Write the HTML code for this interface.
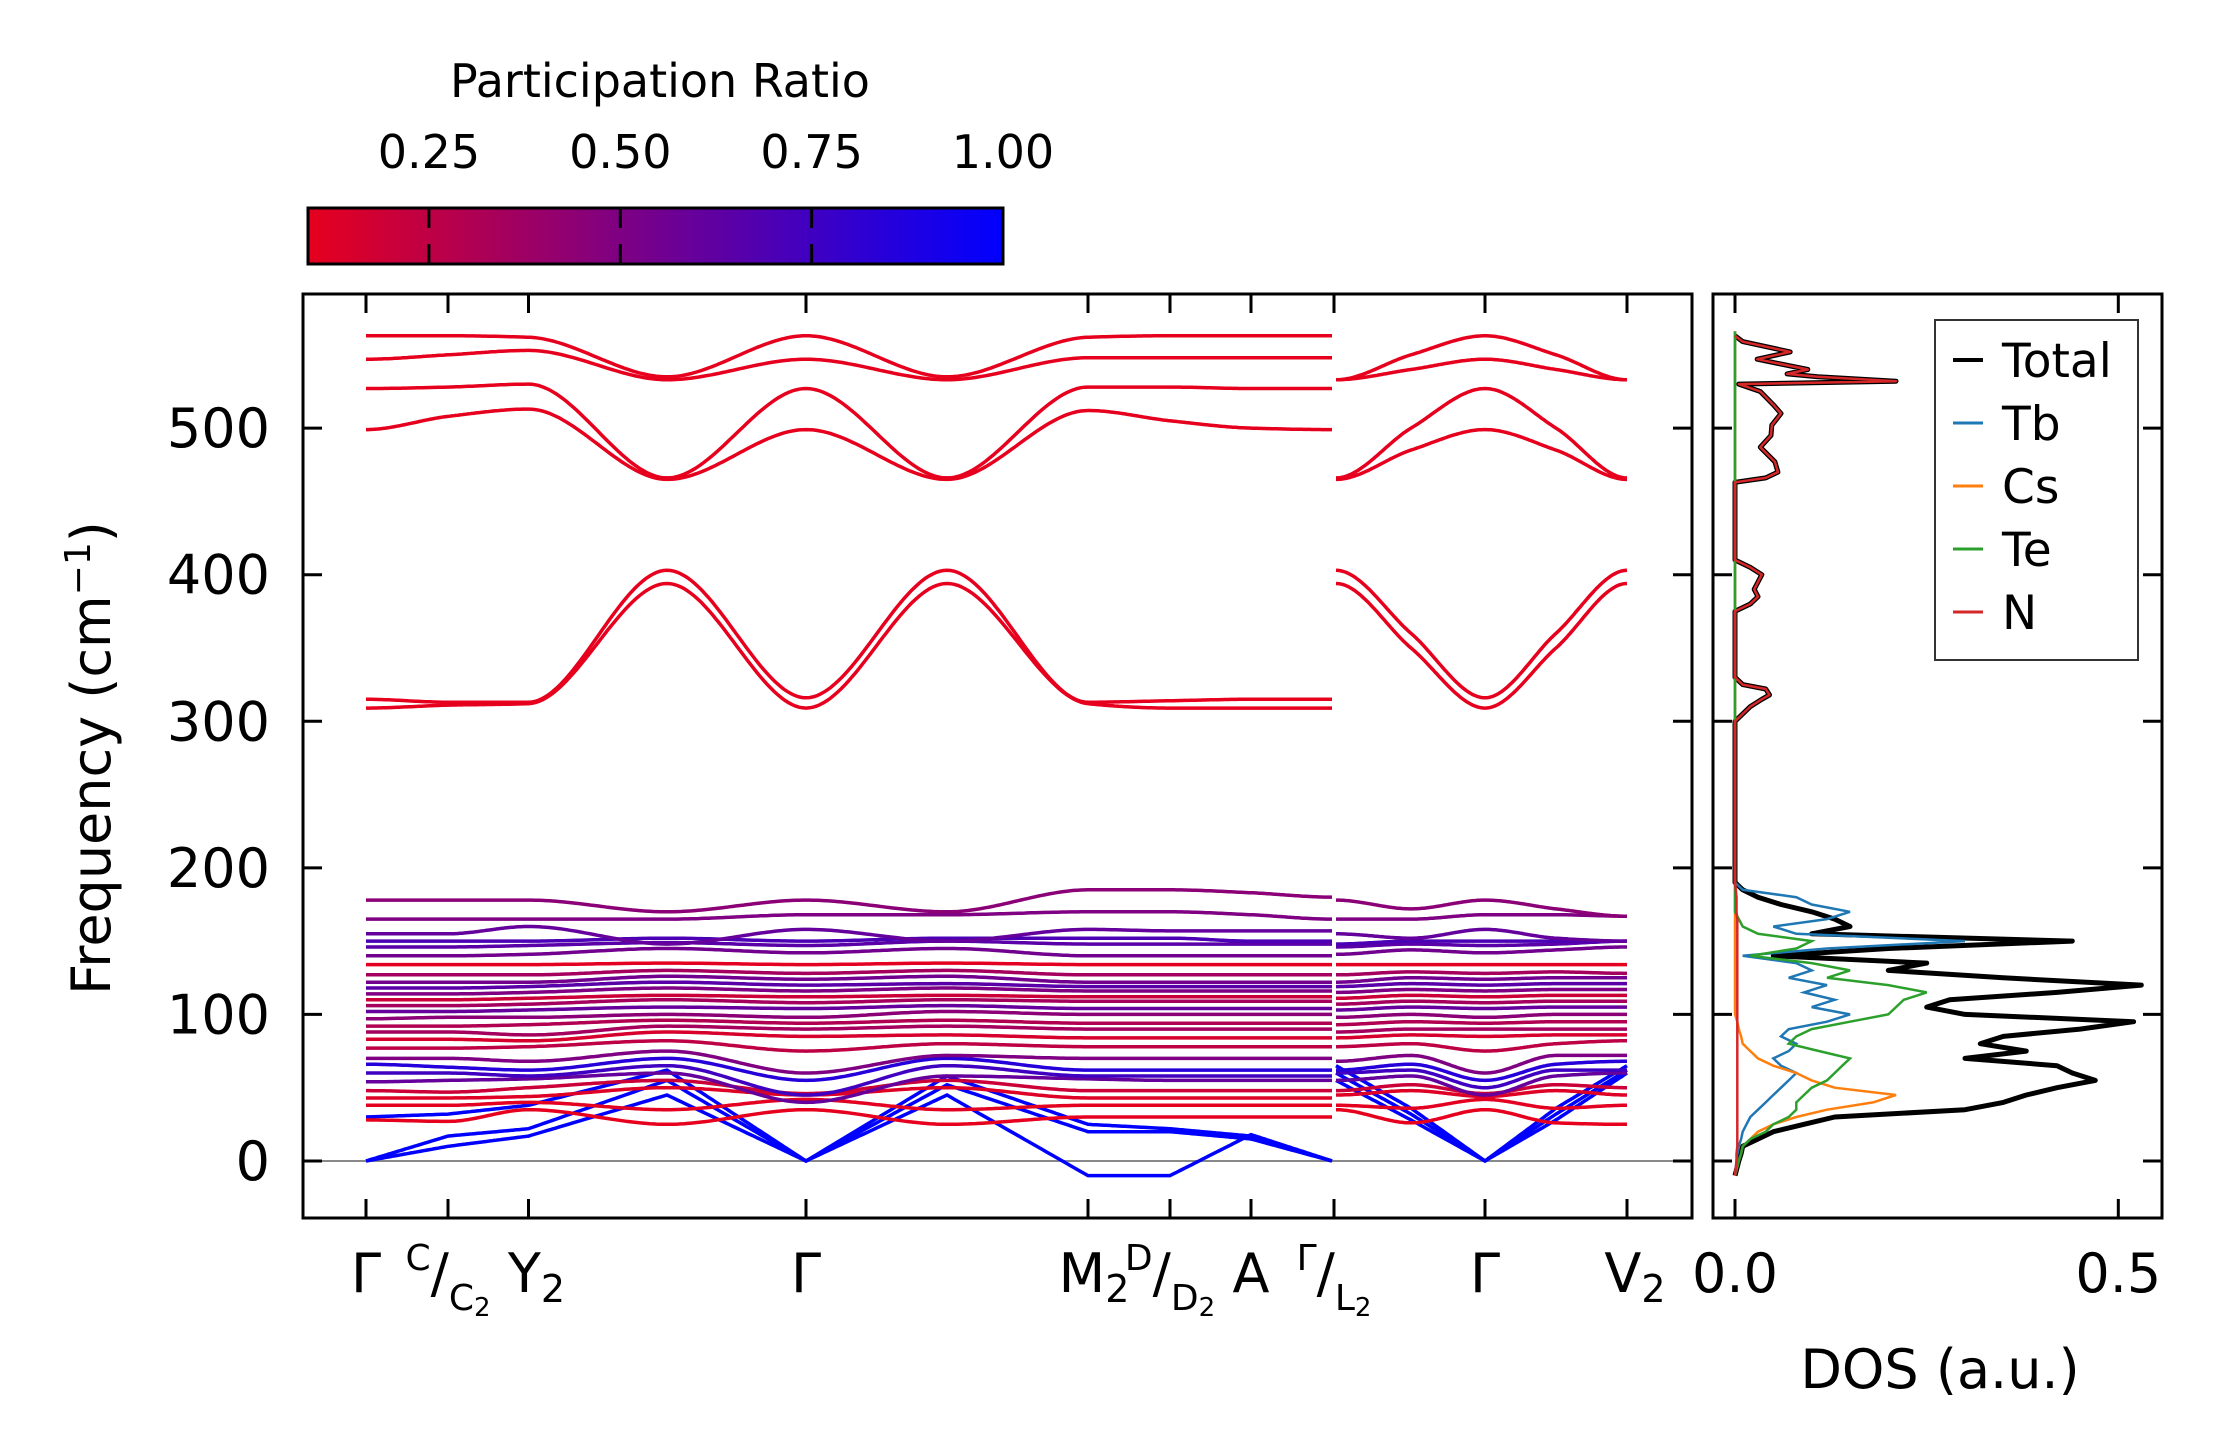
<!DOCTYPE html>
<html><head><meta charset="utf-8"><style>
body{margin:0;background:#fff}
svg{display:block;font-family:"DejaVu Sans","Liberation Sans",sans-serif}
</style></head><body>
<svg id="fig" width="2222" height="1455" viewBox="0 0 2222 1455" xmlns="http://www.w3.org/2000/svg">
<defs>
<linearGradient id="cbgrad" x1="0" x2="1" y1="0" y2="0">
<stop offset="0" stop-color="rgb(230,0,30)"/><stop offset="1" stop-color="rgb(0,0,255)"/>
</linearGradient>
<clipPath id="mainclip"><rect x="303" y="294" width="1389" height="924"/></clipPath>
<clipPath id="dosclip"><rect x="1713" y="294" width="449" height="924"/></clipPath>
</defs>
<g>
<text x="660" y="97" font-size="46" text-anchor="middle">Participation Ratio</text>
<rect x="308" y="208" width="695" height="56" fill="url(#cbgrad)" stroke="#000" stroke-width="3"/>
<g id="cbticks"></g>
</g>
<g id="main">
<line id="zeroline" stroke="#888" stroke-width="2"/>
<g id="bands" clip-path="url(#mainclip)"></g>
<rect x="303" y="294" width="1389" height="924" fill="none" stroke="#000" stroke-width="3"/>
<g id="mainticks"></g>
<text transform="translate(110,758) rotate(-90)" font-size="54" text-anchor="middle">Frequency (cm<tspan dy="-20" font-size="36">−1</tspan><tspan dy="20">)</tspan></text>
</g>
<g id="dos">
<g id="doslines" clip-path="url(#dosclip)"></g>
<rect x="1713" y="294" width="449" height="924" fill="none" stroke="#000" stroke-width="3"/>
<g id="dosticks"></g>
<text x="1940" y="1388" font-size="54" text-anchor="middle">DOS (a.u.)</text>
<g>
<rect x="1935" y="320" width="203" height="340" fill="#fff" stroke="#333" stroke-width="2"/>
<g id="legendentries"></g>
</g>
</g>
</svg>
<script>
// ---- data ----
const kTicks = [0, 0.82, 1.625, 4.40, 7.22, 8.04, 8.85, 9.68, 11.19, 12.61];
const kNodesL = [0, 0.82, 1.625, 3.01, 4.40, 5.81, 7.22, 8.04, 8.85, 9.66];
const kNodesR = [9.70, 10.45, 11.19, 11.90, 12.61];
const freqTicks = [0, 100, 200, 300, 400, 500];
const cbTicks = [0.25, 0.5, 0.75, 1.0];
const dosTicks = [0.0, 0.5];
const bandVals = [
[0,10,17,45,0,45,-10,-10,18,0, 55,28,0,28,60],
[0,17,22,55,0,52,20,20,15,0, 60,32,0,32,62],
[30,32,38,62,0,58,25,22,17,0, 65,36,0,36,65],
[28,27,35,25,35,25,30,30,30,30, 35,26,35,26,25],
[38,38,40,35,42,35,38,38,38,38, 38,36,42,36,38],
[43,43,44,50,45,50,43,43,43,43, 45,48,44,48,45],
[48,47,50,55,46,55,48,48,48,48, 48,52,46,52,50],
[54,55,56,60,40,58,56,55,55,55, 55,58,45,58,60],
[60,60,58,65,45,65,58,58,58,58, 60,62,50,62,62],
[66,64,62,70,55,70,62,62,62,62, 62,66,55,66,68],
[70,70,68,75,60,72,70,70,70,70, 68,72,60,72,72],
[77,77,78,82,75,80,78,78,78,78, 78,80,75,80,82],
[83,83,82,88,85,86,84,84,84,84, 84,86,85,86,86],
[88,88,86,92,90,92,90,90,90,90, 88,90,90,90,90],
[92,92,93,96,94,96,94,94,94,94, 93,95,94,95,95],
[97,98,98,100,98,102,100,100,100,100, 98,100,98,100,100],
[102,102,103,105,104,106,104,104,104,104, 103,105,104,105,105],
[106,106,107,110,108,110,109,109,109,109, 107,109,108,109,109],
[110,110,111,113,112,113,112,112,112,112, 111,113,112,113,113],
[114,114,115,118,116,118,116,116,116,116, 115,117,116,117,117],
[118,118,119,122,120,121,119,119,119,119, 119,121,120,121,121],
[122,122,122,126,124,126,122,122,122,122, 122,125,124,125,125],
[127,127,127,130,128,130,127,127,127,127, 127,129,128,129,128],
[134,134,134,135,134,135,134,134,134,134, 134,134,134,134,134],
[140,140,141,145,142,145,140,140,140,140, 141,144,142,144,146],
[146,146,147,149,147,150,148,148,148,148, 146,148,147,148,150],
[150,150,150,152,150,152,152,152,150,150, 148,150,150,150,150],
[155,155,160,148,158,150,158,157,157,157, 155,152,158,152,150],
[165,165,165,165,168,168,170,170,168,165, 165,165,168,168,167],
[178,178,178,170,178,170,185,185,183,180, 178,172,178,172,167],
[309,311,312,394,309,394,312,309,309,309, 394,350,309,350,394],
[315,313,313,403,316,403,313,314,315,315, 403,360,316,360,403],
[499,508,513,465,499,465,512,505,500,499, 465,485,499,485,465],
[527,528,530,466,527,466,528,528,527,527, 466,500,527,500,466],
[547,550,553,533,547,533,548,548,548,548, 533,540,547,540,533],
[563,563,562,535,563,535,562,563,563,563, 533,550,563,550,533]
];
const bandPR = [1,1,1,0.08,0.1,0.12,0.2,0.6,0.75,0.85,0.5,0.25,0.15,0.35,0.3,0.45,0.6,0.35,0.2,0.5,0.65,0.55,0.35,0.1,0.55,0.65,0.7,0.6,0.5,0.45,0.09,0.09,0.09,0.09,0.09,0.09];
const bandLinear = [1,1,1];
const dosFreq = [-10,0,5,10,15,20,25,30,35,40,45,50,55,60,65,70,75,80,85,90,95,100,105,110,115,120,125,130,135,140,145,150,155,160,165,170,175,180,185,190,200,300,305,310,315,318,322,325,330,375,380,385,390,395,400,405,410,463,466,470,477,487,495,502,510,516,525,530,532,535,537,540,547,552,559,563,566];
const dosTb = [0,0.002,0.003,0.005,0.008,0.01,0.015,0.02,0.03,0.04,0.05,0.06,0.07,0.08,0.06,0.05,0.07,0.08,0.06,0.07,0.12,0.15,0.1,0.13,0.09,0.12,0.07,0.1,0.08,0.01,0.12,0.3,0.08,0.05,0.12,0.15,0.1,0.08,0.01,0,0, 0,0,0,0,0,0,0,0, 0,0,0,0,0,0,0,0, 0,0,0,0,0,0,0,0,0,0,0,0,0,0,0,0,0,0,0,0];
const dosCs = [0,0.005,0.008,0.01,0.02,0.03,0.05,0.08,0.12,0.18,0.21,0.13,0.1,0.08,0.05,0.03,0.02,0.01,0.008,0.005,0.003,0,0,0,0,0,0,0,0,0,0,0,0,0,0,0,0,0,0,0,0, 0,0,0,0,0,0,0,0, 0,0,0,0,0,0,0,0, 0,0,0,0,0,0,0,0,0,0,0,0,0,0,0,0,0,0,0,0];
const dosTe = [0,0.005,0.008,0.01,0.02,0.04,0.05,0.07,0.08,0.08,0.09,0.1,0.12,0.13,0.14,0.15,0.11,0.07,0.08,0.1,0.15,0.2,0.21,0.22,0.25,0.2,0.12,0.15,0.1,0.02,0.08,0.1,0.03,0.01,0.005,0,0,0,0,0,0, 0,0,0,0,0,0,0,0, 0,0,0,0,0,0,0,0, 0,0,0,0,0,0,0,0,0,0,0,0,0,0,0,0,0,0,0,0];
const dosN = [0,0.002,0.002,0.003,0.003,0.003,0.003,0.003,0.003,0.003,0.003,0.003,0.003,0.003,0.003,0.003,0.003,0.003,0.003,0.003,0.003,0.003,0.003,0.003,0.003,0.003,0.003,0.003,0.003,0.003,0.003,0.003,0.003,0.003,0.003,0.002,0.002,0.002,0.001,0,0, 0,0.01,0.02,0.035,0.045,0.04,0.01,0, 0,0.02,0.03,0.025,0.03,0.035,0.02,0, 0,0.04,0.056,0.052,0.033,0.047,0.048,0.06,0.05,0.033,0.005,0.21,0.108,0.068,0.095,0.029,0.072,0.01,0];
const dosTotal = [0,0.005,0.008,0.01,0.03,0.05,0.09,0.13,0.3,0.35,0.38,0.42,0.47,0.44,0.42,0.3,0.38,0.32,0.35,0.45,0.52,0.3,0.25,0.28,0.42,0.53,0.35,0.2,0.25,0.05,0.2,0.44,0.1,0.15,0.13,0.1,0.06,0.03,0.01,0,0, 0,0.01,0.02,0.035,0.045,0.04,0.01,0, 0,0.02,0.03,0.025,0.03,0.035,0.02,0, 0,0.04,0.056,0.052,0.033,0.047,0.048,0.06,0.05,0.033,0.005,0.21,0.108,0.068,0.095,0.029,0.072,0.01,0];
const tickLabels = ["Γ","C","Y","Γ","M","D","A","Γ","Γ","V"];

// ---- scales ----
const NS = "http://www.w3.org/2000/svg";
const MX0=303, MX1=1692, MY0=294, MY1=1218;
const kMin=-0.63, kMax=13.26, fMin=-38.9, fMax=591.5;
const xK = k => MX0 + (k-kMin)/(kMax-kMin)*(MX1-MX0);
const yF = f => MY1 - (f-fMin)/(fMax-fMin)*(MY1-MY0);
const DX0=1713, DX1=2162, dMin=-0.0287, dMax=0.557;
const xD = d => DX0 + (d-dMin)/(dMax-dMin)*(DX1-DX0);
const CB0=308, CB1=1003, cbMin=0.092, cbMax=1.0;
const xCB = v => CB0 + (v-cbMin)/(cbMax-cbMin)*(CB1-CB0);
function mk(tag, attrs, parent){const e=document.createElementNS(NS,tag);for(const a in attrs)e.setAttribute(a,attrs[a]);parent.appendChild(e);return e;}
function prColor(p){let t=(p-cbMin)/(cbMax-cbMin);t=Math.max(0,Math.min(1,t));return `rgb(${Math.round(230*(1-t))},0,${Math.round(30+225*t)})`;}

const cbG=document.getElementById('cbticks');
cbTicks.forEach(v=>{
  const x=xCB(v);
  if(v<1){
    const t1=mk('line',{x1:x,x2:x,y1:208,y2:228,stroke:'#000','stroke-width':3},cbG);
    
    
    const t2=mk('line',{x1:x,x2:x,y1:244,y2:264,stroke:'#000','stroke-width':3},cbG);
    
    
  }
  const tx=mk('text',{x:x,y:168,'font-size':46,'text-anchor':'middle'},cbG);
  tx.textContent=v.toFixed(2);
  
  
});

const zl=document.getElementById('zeroline');
zl.setAttribute('x1',MX0);zl.setAttribute('x2',MX1);zl.setAttribute('y1',yF(0));zl.setAttribute('y2',yF(0));

const bG=document.getElementById('bands');
function segPath(ks, vs, lin){
  const n=ks.length;
  // Hermite tangents: zero at local extrema / ends, averaged slope otherwise
  const m=vs.map((v,i)=>{
    if(i===0||i===n-1) return 0;
    const s1=(v-vs[i-1])/(ks[i]-ks[i-1]), s2=(vs[i+1]-v)/(ks[i+1]-ks[i]);
    if(s1*s2<=0) return 0;
    return 2/(1/s1+1/s2);
  });
  let d='';
  for(let i=0;i<n-1;i++){
    const N=40, h=ks[i+1]-ks[i];
    for(let j=(i===0?0:1);j<=N;j++){
      const t=j/N;
      let v;
      if(lin) v=vs[i]+(vs[i+1]-vs[i])*t;
      else {
        const h00=2*t*t*t-3*t*t+1,h10=t*t*t-2*t*t+t,h01=-2*t*t*t+3*t*t,h11=t*t*t-t*t;
        v=h00*vs[i]+h10*h*m[i]+h01*vs[i+1]+h11*h*m[i+1];
      }
      const k=ks[i]+h*t;
      d+=(d===''?'M':'L')+xK(k).toFixed(1)+','+yF(v).toFixed(1);
    }
  }
  return d;
}
bandVals.forEach((vals,bi)=>{
  const lin=bandLinear[bi]===1;
  const col=prColor(bandPR[bi]);
  const p1=mk('path',{d:segPath(kNodesL,vals.slice(0,10),lin),fill:'none',stroke:col,'stroke-width':3.5},bG);
  
  
  const p2=mk('path',{d:segPath(kNodesR,vals.slice(10,15),lin),fill:'none',stroke:col,'stroke-width':3.5},bG);
  
  
});

const mt=document.getElementById('mainticks');
kTicks.forEach((k,i)=>{
  const x=xK(k);
  const a=mk('line',{x1:x,x2:x,y1:MY1,y2:MY1-19,stroke:'#000','stroke-width':3},mt);
  
  
  const b=mk('line',{x1:x,x2:x,y1:MY0,y2:MY0+19,stroke:'#000','stroke-width':3},mt);
  
  
});
function lab(x, parts){
  const t=mk('text',{x:x,y:1292,'font-size':54,'text-anchor':'middle'},mt);
  
  
  parts.forEach(p=>{const s=mk('tspan',p.a||{},t);s.textContent=p.t;});
  return t;
}
lab(xK(kTicks[0]),[{t:tickLabels[0]}]);
lab(xK(kTicks[1]),[{t:'C',a:{'font-size':36,dy:-22}},{t:'/',a:{dy:22}},{t:'C',a:{'font-size':36,dy:18}},{t:'2',a:{'font-size':26,dy:6}}]);
lab(xK(kTicks[2])+8,[{t:'Y'},{t:'2',a:{'font-size':38,dy:10}}]);
lab(xK(kTicks[3]),[{t:'Γ'}]);
lab(xK(kTicks[4])+6,[{t:'M'},{t:'2',a:{'font-size':38,dy:10}}]);
lab(xK(kTicks[5]),[{t:'D',a:{'font-size':36,dy:-22}},{t:'/',a:{dy:22}},{t:'D',a:{'font-size':36,dy:18}},{t:'2',a:{'font-size':26,dy:6}}]);
lab(xK(kTicks[6]),[{t:'A'}]);
lab(xK(kTicks[7]),[{t:'Γ',a:{'font-size':36,dy:-22}},{t:'/',a:{dy:22}},{t:'L',a:{'font-size':36,dy:18}},{t:'2',a:{'font-size':26,dy:6}}]);
lab(xK(kTicks[8]),[{t:'Γ'}]);
lab(xK(kTicks[9])+8,[{t:'V'},{t:'2',a:{'font-size':38,dy:10}}]);
freqTicks.forEach(f=>{
  const y=yF(f);
  [[MX0,MX0+19],[MX1,MX1-19],[DX0,DX0+19],[DX1,DX1-19]].forEach(p=>{
    const l=mk('line',{x1:p[0],x2:p[1],y1:y,y2:y,stroke:'#000','stroke-width':3},mt);
    
    
  });
  const t=mk('text',{x:270,y:y+19,'font-size':54,'text-anchor':'end'},mt);
  t.textContent=String(f);
  
  
});

const dG=document.getElementById('doslines');
function dosPath(vals){return vals.map((v,i)=>(i?'L':'M')+xD(v).toFixed(1)+','+yF(dosFreq[i]).toFixed(1)).join('');}
const tot=mk('path',{d:dosPath(dosTotal),fill:'none',stroke:'#000','stroke-width':5,'stroke-linejoin':'round'},dG);


const tb=mk('path',{d:dosPath(dosTb),fill:'none',stroke:'#1f77b4','stroke-width':2.5},dG);


const cs=mk('path',{d:dosPath(dosCs),fill:'none',stroke:'#ff7f0e','stroke-width':2.5},dG);


const te=mk('path',{d:dosPath(dosTe),fill:'none',stroke:'#2ca02c','stroke-width':2.5},dG);


const nn=mk('path',{d:dosPath(dosN),fill:'none',stroke:'#d62728','stroke-width':2.5,'stroke-linejoin':'round'},dG);


const dt=document.getElementById('dosticks');
dosTicks.forEach(v=>{
  const x=xD(v);
  const a=mk('line',{x1:x,x2:x,y1:MY1,y2:MY1-19,stroke:'#000','stroke-width':3},dt);
  
  
  const b=mk('line',{x1:x,x2:x,y1:MY0,y2:MY0+19,stroke:'#000','stroke-width':3},dt);
  
  
  const t=mk('text',{x:x,y:1292,'font-size':54,'text-anchor':'middle'},dt);
  t.textContent=v.toFixed(1);
  
  
});
const lg=document.getElementById('legendentries');
const legNames=['Total','Tb','Cs','Te','N'];
const legCols=['#000','#1f77b4','#ff7f0e','#2ca02c','#d62728'];
legNames.forEach((n,i)=>{
  const y=360+i*63;
  const l=mk('line',{x1:1953,x2:1983,y1:y,y2:y,stroke:legCols[i],'stroke-width':i?3:4},lg);
  
  
  const t=mk('text',{x:2002,y:y+17,'font-size':47},lg);
  t.textContent=n;
  
  
});
</script>
</body></html>
